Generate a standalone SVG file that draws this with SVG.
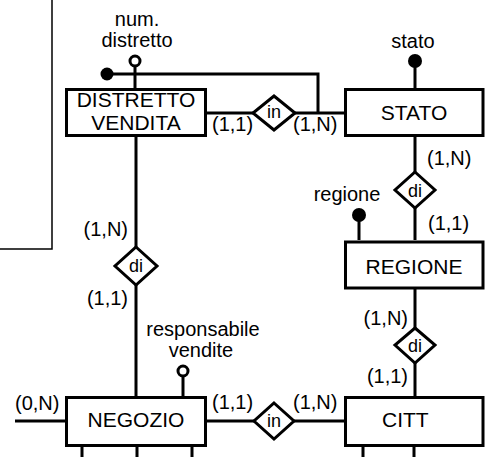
<svg xmlns="http://www.w3.org/2000/svg" width="485" height="457" viewBox="0 0 485 457">
<defs>
<style>
text{font-family:"Liberation Sans",Arial,Helvetica,sans-serif;fill:#000}
.ent{font-size:21px;text-anchor:middle}
.lbl{font-size:20px}
.att{font-size:20px;text-anchor:middle}
.rel{font-size:18px;text-anchor:middle}
.box{fill:#fff;stroke:#000;stroke-width:3}
.dia{fill:#fff;stroke:#000;stroke-width:3}
.ln{stroke:#000;stroke-width:3;fill:none}
.thin{stroke:#000;stroke-width:1.5;fill:none}
.hol{fill:#fff;stroke:#000;stroke-width:3}
.fil{fill:#000}
</style>
</defs>
<rect width="485" height="457" fill="#fff"/>
<g id="connectors">
<path class="thin" d="M52,0 V249 H0"/>
<path class="ln" d="M135,66 V88"/>
<path class="ln" d="M107,74 H318 V113"/>
<path class="ln" d="M207,113 H253 M295,113 H344"/>
<path class="ln" d="M415,61 V88"/>
<path class="ln" d="M415,137 V172 M415,208 V240"/>
<path class="ln" d="M359,215 V240"/>
<path class="ln" d="M415,289 V328 M415,363 V396"/>
<path class="ln" d="M136,137 V247 M136,285 V396"/>
<path class="ln" d="M183,376 V396"/>
<path class="ln" d="M15,421 H65"/>
<path class="ln" d="M206,421 H254 M294,421 H344"/>
<path class="ln" d="M82,447 V457 M137,447 V457 M192,447 V457 M363,447 V457 M414,447 V457"/>
</g>
<g id="attr-num-distretto">
<circle class="hol" cx="135" cy="61" r="5"/>
<text class="att" x="137" y="26">num.</text>
<text class="att" x="137" y="47">distretto</text>
</g>
<g id="attr-id-ext">
<circle class="fil" cx="107" cy="74" r="6.5"/>
</g>
<g id="attr-stato">
<circle class="fil" cx="415" cy="61" r="7"/>
<text class="att" x="413" y="48">stato</text>
</g>
<g id="attr-regione">
<circle class="fil" cx="359" cy="215" r="7"/>
<text class="att" x="347" y="201">regione</text>
</g>
<g id="attr-responsabile">
<circle class="hol" cx="183" cy="371" r="5"/>
<text class="att" x="203" y="336">responsabile</text>
<text class="att" x="201" y="357">vendite</text>
</g>
<g id="distretto-vendita">
<rect class="box" x="66.5" y="89.5" width="139" height="46"/>
<text class="ent" x="136" y="107">DISTRETTO</text>
<text class="ent" x="136" y="130">VENDITA</text>
</g>
<g id="stato">
<rect class="box" x="345.5" y="89.5" width="137.5" height="46"/>
<text class="ent" x="414" y="120">STATO</text>
</g>
<g id="regione">
<rect class="box" x="345.5" y="242" width="137.5" height="46"/>
<text class="ent" x="414" y="274">REGIONE</text>
</g>
<g id="negozio">
<rect class="box" x="66.5" y="397.5" width="139" height="48"/>
<text class="ent" x="136" y="427">NEGOZIO</text>
</g>
<g id="citta">
<rect class="box" x="345.5" y="397.5" width="137.5" height="48"/>
<text class="ent" x="382" y="427" style="text-anchor:start">CITT</text>
</g>
<g id="rel-in-top">
<polygon class="dia" points="274,96 295,113 274,130 253,113"/>
<text class="rel" x="274" y="118">in</text>
<text class="lbl" x="212" y="131">(1,1)</text>
<text class="lbl" x="293" y="131">(1,N)</text>
</g>
<g id="rel-di-stato">
<polygon class="dia" points="415,172 435,190 415,208 395,190"/>
<text class="rel" x="415" y="197">di</text>
<text class="lbl" x="427" y="165">(1,N)</text>
<text class="lbl" x="428" y="230">(1,1)</text>
</g>
<g id="rel-di-distretto">
<polygon class="dia" points="136,247 157,266 136,285 115,266"/>
<text class="rel" x="136" y="272">di</text>
<text class="lbl" x="128" y="236" style="text-anchor:end">(1,N)</text>
<text class="lbl" x="128" y="305" style="text-anchor:end">(1,1)</text>
</g>
<g id="rel-di-regione">
<polygon class="dia" points="415,328 435,345 415,363 395,345"/>
<text class="rel" x="415" y="352">di</text>
<text class="lbl" x="408" y="325" style="text-anchor:end">(1,N)</text>
<text class="lbl" x="408" y="383" style="text-anchor:end">(1,1)</text>
</g>
<g id="rel-in-bottom">
<polygon class="dia" points="274,403 294,421 274,439 254,421"/>
<text class="rel" x="274" y="427">in</text>
<text class="lbl" x="212" y="409">(1,1)</text>
<text class="lbl" x="293" y="409">(1,N)</text>
<text class="lbl" x="15" y="410">(0,N)</text>
</g>
</svg>
